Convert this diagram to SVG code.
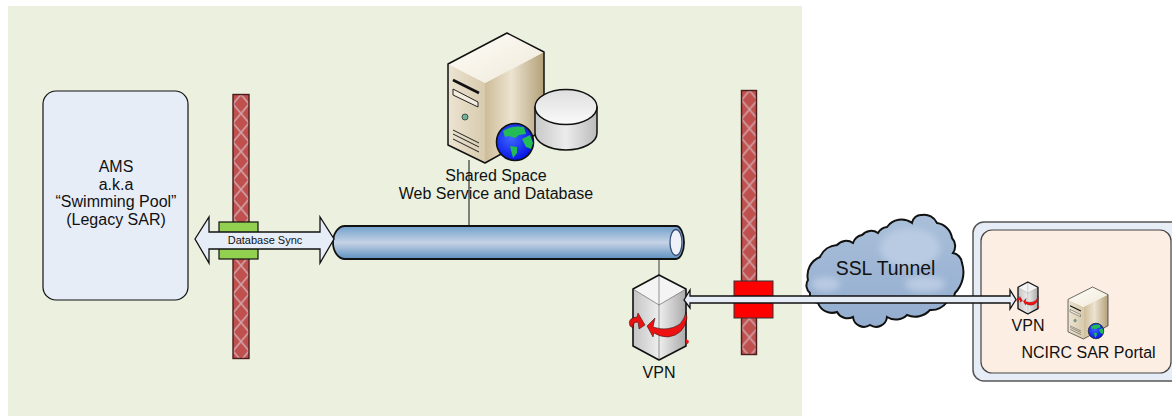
<svg xmlns="http://www.w3.org/2000/svg" width="1172" height="416" viewBox="0 0 1172 416">
<style>
text{font-family:"Liberation Sans",Arial,sans-serif;font-size:16px;fill:#111;text-anchor:middle}
.ln{stroke:#111;fill:none}
.arrow{fill:#e6edf7;stroke:#111;stroke-width:1.3;stroke-linejoin:miter}
.fw{fill:url(#lattice);stroke:#4a1c1c;stroke-width:1.4}
</style>
<defs>
<pattern id="lattice" patternUnits="userSpaceOnUse" width="16" height="19">
<rect width="16" height="19" fill="#c0504d"/>
<path d="M8,0 L16,9.500 L8,19 L0,9.500 Z" fill="none" stroke="#cfa3a8" stroke-width="1.600"/>
</pattern>
<linearGradient id="srvL" x1="0" y1="0" x2="1" y2="0"><stop offset="0" stop-color="#ece4d2"/><stop offset="1" stop-color="#d8cbad"/></linearGradient>
<linearGradient id="srvR" x1="0" y1="0" x2="1" y2="0"><stop offset="0" stop-color="#cdbc98"/><stop offset=".45" stop-color="#ece3d0"/><stop offset="1" stop-color="#b3a078"/></linearGradient>
<linearGradient id="srvT" x1="0" y1="0" x2="1" y2="1"><stop offset="0" stop-color="#fffefa"/><stop offset="1" stop-color="#efe8d8"/></linearGradient>
<linearGradient id="pipe" x1="0" y1="0" x2="0" y2="1"><stop offset="0" stop-color="#6f9fca"/><stop offset=".5" stop-color="#c6d3e6"/><stop offset="1" stop-color="#5e90c0"/></linearGradient>
<linearGradient id="dbS" x1="0" y1="0" x2="1" y2="0"><stop offset="0" stop-color="#c8c8c8"/><stop offset=".5" stop-color="#ececec"/><stop offset="1" stop-color="#bbb"/></linearGradient>
<linearGradient id="dbT" x1="0" y1="0" x2="0" y2="1"><stop offset="0" stop-color="#dedede"/><stop offset="1" stop-color="#fafafa"/></linearGradient>
<linearGradient id="vpL" x1="0" y1="0" x2="1" y2="0"><stop offset="0" stop-color="#c4c4c4"/><stop offset="1" stop-color="#eee"/></linearGradient>
<linearGradient id="vpR" x1="0" y1="0" x2="1" y2="0"><stop offset="0" stop-color="#eee"/><stop offset="1" stop-color="#aaa"/></linearGradient>
<linearGradient id="cloud" x1="0" y1="0" x2="0" y2="1"><stop offset="0" stop-color="#a9bfd9"/><stop offset="1" stop-color="#93add0"/></linearGradient>
<filter id="soft" x="-30%" y="-30%" width="160%" height="160%"><feGaussianBlur stdDeviation="3"/></filter>
<radialGradient id="ocean" cx=".4" cy=".4" r=".7"><stop offset="0" stop-color="#3c66ff"/><stop offset="1" stop-color="#0008e0"/></radialGradient>
<g id="globe">
<circle cx="515" cy="142" r="18.500" fill="url(#ocean)" stroke="#111" stroke-width="1.600"/>
<path d="M503,131 Q512,125 524,127 L526,134 L519,135 L515,138 L509,136 L505,137 Z M522,139 L530,135 L533,143 L531,149 L526,147 Z M510,146 L517,147 L517,153 L513,158 Z" fill="#22bb55"/>
</g>
<g id="server">
<path d="M448,64 L485,83 V163 L448,145 Z" fill="url(#srvL)"/>
<path d="M485,83 L544,52 V130 L485,163 Z" fill="url(#srvR)"/>
<path d="M448,64 L507,33 L544,52 L485,83 Z" fill="url(#srvT)"/>
<path d="M448,64 L507,33 L544,52 V130 L485,163 L448,145 Z" fill="none" stroke="#111" stroke-width="1.500" stroke-linejoin="round"/>
<path d="M453,80 L479,93" stroke="#111" stroke-width="2.600" fill="none"/>
<path d="M453,89 L478,102 V107 L453,95 Z" fill="#f2ecdf" stroke="#222" stroke-width="1"/>
<circle cx="465" cy="117" r="3" fill="#6fb59b" stroke="#333" stroke-width=".8"/>
<path d="M453,130 L479,143 M453,134 L479,147 M453,139 L479,152" stroke="#222" stroke-width="1" fill="none"/>
</g>
<g id="vpn">
<path d="M633,289 L659,305 V360 L633,346 Z" fill="url(#vpL)"/>
<path d="M659,305 L686,289 V346 L659,360 Z" fill="url(#vpR)"/>
<path d="M633,289 L659,275 L686,289 L659,305 Z" fill="#f4f4f4"/>
<path d="M659,305 L686,289 M633,289 L659,305" fill="none" stroke="#333" stroke-width=".5"/>
<path d="M659,275 V360" fill="none" stroke="#666" stroke-width=".7"/>
<path d="M633,289 L659,275 L686,289 V346 L659,360 L633,346 Z" fill="none" stroke="#111" stroke-linejoin="round"/>
<path d="M647,326 L655,318 L653,327 Q668,332 680,324 Q685,318 686,312 L687,318 Q684,335 668,337 Q660,337 654,333 L653,337 Z" fill="#ee1111" stroke="#111" stroke-width=".5"/>
<path d="M630,326 Q627,318 637,317 L638,313 L645,325 L639,329 L638,322 Q632,322 633,328 Z" fill="#ee1111" stroke="#111" stroke-width=".5"/>
<path d="M686,339 L689,341 L688,344 L686,343 Z" fill="#ee1111"/>
</g>
</defs>

<rect id="zone" x="8" y="6" width="794" height="410" fill="#ebf0df"/>

<g id="ams">
<rect x="43" y="91" width="145" height="209" rx="13" fill="#e6edf7" stroke="#111" stroke-width="1.200"/>
<text x="116" y="172">AMS</text>
<text x="116" y="190">a.k.a</text>
<text x="116" y="207">“Swimming Pool”</text>
<text x="116" y="225">(Legacy SAR)</text>
</g>

<g id="firewall-left"><rect class="fw" transform="translate(233,94.500)" width="16" height="264"/></g>
<g id="firewall-right"><rect class="fw" transform="translate(741.500,90.500)" width="15" height="264"/></g>

<g id="connectors">
<path class="ln" stroke-width="1" d="M469,160 V226"/>
<path d="M659,259 V275" stroke="#555" stroke-width="1.200" fill="none"/>
</g>

<g id="sync-band"><rect x="219" y="222" width="39" height="37" fill="#92d050" stroke="#111" stroke-width="1.200"/></g>
<g id="ssl-band"><rect x="734" y="281" width="39" height="37" fill="#ff0000" stroke="#333" stroke-width="1"/></g>

<g id="portal">
<rect x="973" y="222" width="230" height="159" rx="11" fill="#e6edf7" stroke="#555" stroke-width="1.500"/>
<rect x="981" y="230" width="190" height="143" rx="11" fill="#fdeee3" stroke="#444" stroke-width="1.200"/>
</g>

<g id="cloud-ssl">
<path d="M808,280 A20,20 0 0 1 820,257 A20,20 0 0 1 837,245 A12,12 0 0 1 853,243 A12,12 0 0 1 862,235 A12,12 0 0 1 878,233 A12,12 0 0 1 887,227 A18,18 0 0 1 912,223 A9,9 0 0 1 922,215 A14,14 0 0 1 937,223 A18,18 0 0 1 952,238 A12,12 0 0 1 953,253 A11,11 0 0 1 962,263 A30,30 0 0 1 955,293 A11,11 0 0 1 947,302 A20,20 0 0 1 930,310 A20,20 0 0 1 907,315 A16,16 0 0 1 887,317 A11,11 0 0 1 870,325 A11,11 0 0 1 853,317 A12,12 0 0 1 837,312 A15,15 0 0 1 818,303 A9,9 0 0 1 810,293 A10,10 0 0 1 808,280 Z" fill="url(#cloud)" stroke="#111" stroke-width="2"/>
<g fill="#b9cbe2" filter="url(#soft)">
<ellipse cx="910" cy="248" rx="30" ry="20"/>
<ellipse cx="826" cy="284" rx="14" ry="7"/>
<ellipse cx="925" cy="284" rx="20" ry="8"/>
</g>
<text x="885.500" y="275" style="font-size:19.400px">SSL Tunnel</text>
</g>

<g id="pipe-bus">
<path d="M345,226 H676 A8,16.500 0 0 1 676,259 H345 A12,16.500 0 0 1 345,226 Z" fill="url(#pipe)" stroke="#111" stroke-width="1.800"/>
<ellipse cx="676" cy="242.500" rx="6" ry="13" fill="#eef1f8" stroke="#35507a" stroke-width="1.300"/>
</g>

<g id="db-sync">
<path class="arrow" d="M195,239 L209,217 V232 H320 V217 L334,239 L320,263 V249 H209 V263 Z"/>
<text x="265" y="243.500" style="font-size:11px">Database Sync</text>
</g>

<g id="vpn-left">
<use href="#vpn" stroke-width="1.600"/>
<text x="659" y="378">VPN</text>
</g>

<g id="ssl-link">
<path class="arrow" d="M684,300 L690,290 V296 H1010 V290 L1016,299.500 L1010,309 V303 H690 V308 Z"/>
</g>

<g id="shared-space">
<use href="#server"/>
<path d="M535,107 V133 A31,17 0 0 0 597,133 V107 Z" fill="url(#dbS)" stroke="#111" stroke-width="1.500"/>
<ellipse cx="566" cy="107" rx="31" ry="17.500" fill="url(#dbT)" stroke="#111" stroke-width="1.500"/>
<use href="#globe"/>
<text x="496" y="181">Shared Space</text>
<text x="496" y="199">Web Service and Database</text>
</g>

<g id="vpn-right">
<use href="#vpn" transform="translate(1018,282) scale(.377,.376) translate(-633,-275)" stroke-width="3.500"/>
<text x="1028" y="331">VPN</text>
</g>

<g id="ncirc-portal">
<use href="#server" transform="translate(1068,287) scale(.417,.4) translate(-448,-33)"/>
<use href="#globe" transform="translate(1096,331) scale(.42) translate(-515,-142)"/>
<text x="1088.500" y="358">NCIRC SAR Portal</text>
</g>
</svg>
